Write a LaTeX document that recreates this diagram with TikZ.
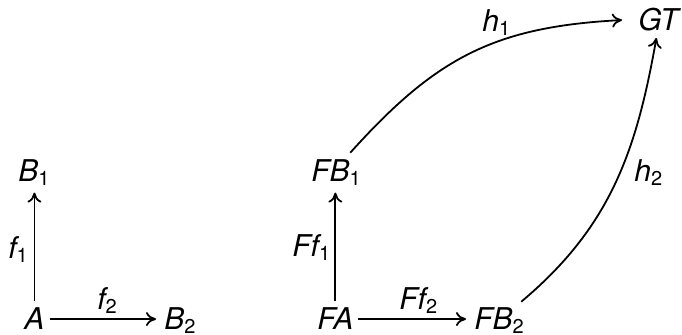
\documentclass[tikz,border=0pt]{standalone}
\usepackage{fontspec}
\setmainfont{TeX Gyre Heros}
\usetikzlibrary{arrows.meta}
\newcommand{\sbs}[1]{\raisebox{-1.6pt}{\fontsize{10}{11}\selectfont\upshape #1}}
\begin{document}
\begin{tikzpicture}[x=0.5pt,y=0.5pt,
  lbl/.style={inner sep=0pt, anchor=base west, font=\fontsize{15}{18}\selectfont\itshape},
  arr/.style={-{To[length=5pt,width=7pt]}, line width=0.9pt}]
\useasboundingbox (0,0) rectangle (682,-335);
% left square
\node[lbl] (A)  at (24,-330) {A};
\node[lbl] (B1) at (18,-182) {B\sbs{1}};
\node[lbl] (B2) at (164,-330) {B\sbs{2}};
\node[lbl] (f1) at (8,-259) {f\sbs{1}};
\node[lbl] (f2) at (97,-310) {f\sbs{2}};
% right diagram
\node[lbl] (FA)  at (317,-330) {FA};
\node[lbl] (FB1) at (311,-182) {FB\sbs{1}};
\node[lbl] (FB2) at (474,-330) {FB\sbs{2}};
\node[lbl] (GT)  at (638,-31) {GT};
\node[lbl] (Ff1) at (292,-257) {Ff\sbs{1}};
\node[lbl] (Ff2) at (399,-310) {Ff\sbs{2}};
\node[lbl] (h1)  at (482,-32) {h\sbs{1}};
\node[lbl] (h2)  at (634,-182) {h\sbs{2}};
% arrows
\draw[arr, shorten <=3.5pt, shorten >=3.5pt] (A.north) -- (A.north |- B1.south);
\draw[arr, shorten <=2.5pt, shorten >=4pt] (A.east) -- (A.east -| B2.west);
\draw[arr, shorten <=3.5pt, shorten >=3.5pt] (FA.north) -- (FA.north |- FB1.south);
\draw[arr, shorten <=2pt, shorten >=4pt] (FA.east) -- (FA.east -| FB2.west);
\draw[arr] ([shift={(-11,7)}]FB1.north east) to[out=48,in=183,looseness=1.08] ([xshift=-8]GT.west);
\draw[arr] ([shift={(-3,6)}]FB2.north east) to[out=40,in=-100] ([shift={(-2,-6)}]GT.south);
\end{tikzpicture}
\end{document}
